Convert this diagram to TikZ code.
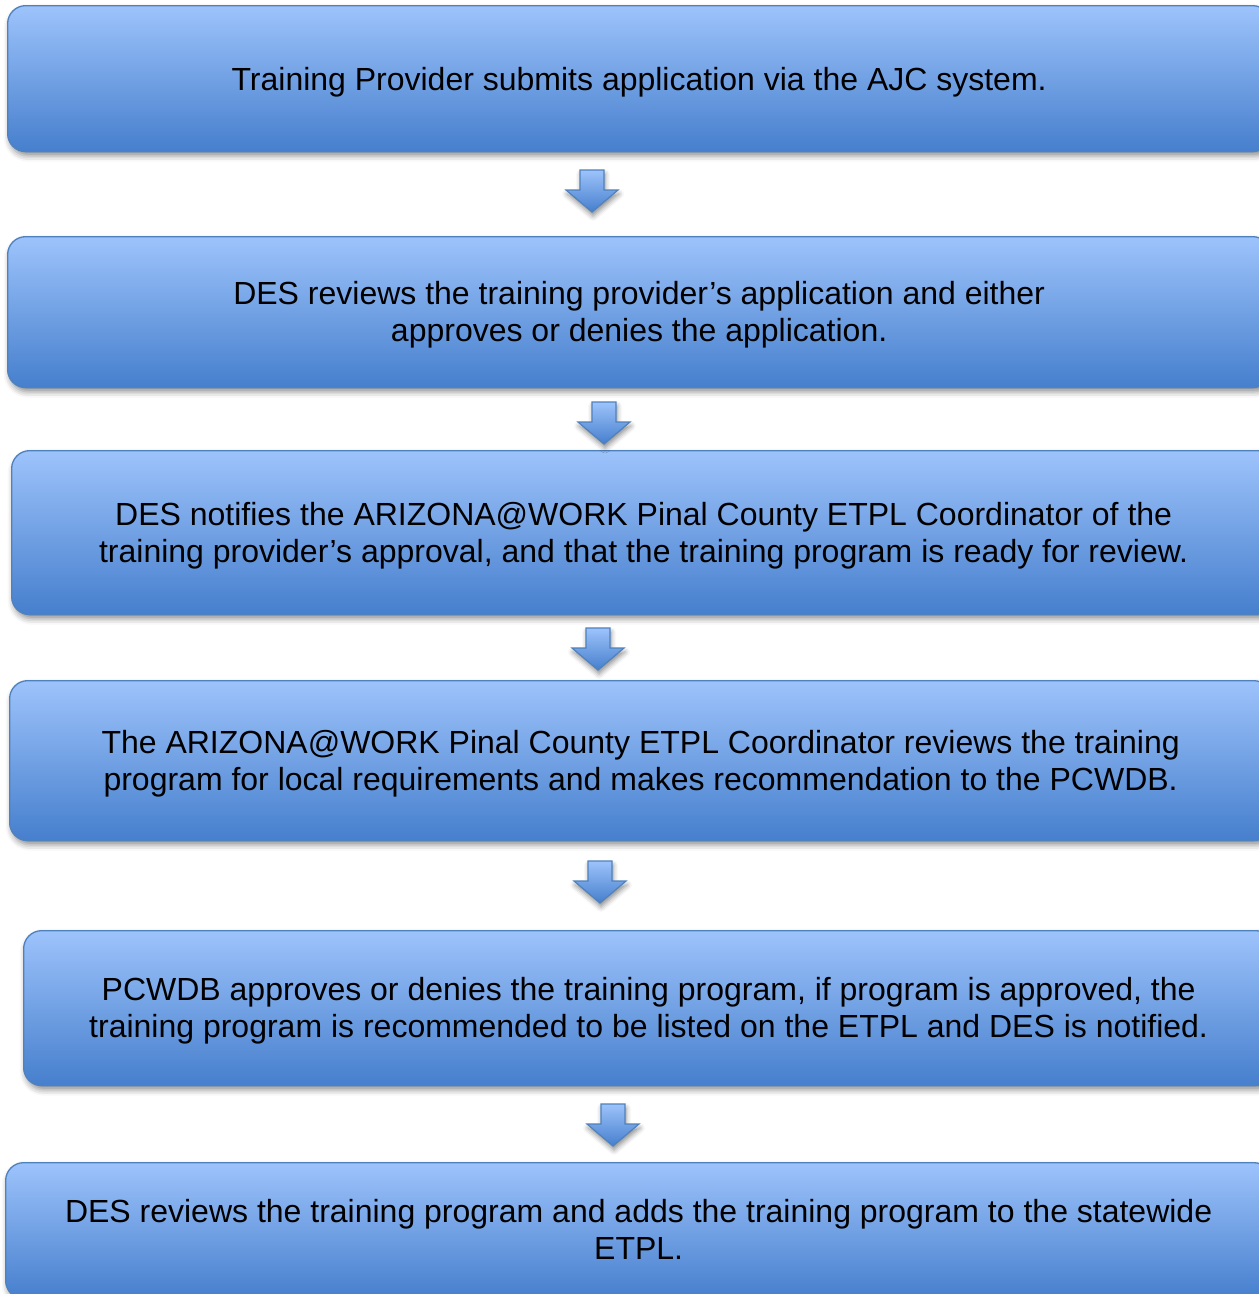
\documentclass[tikz,border=0pt]{standalone}
\usepackage{fontspec}
\setmainfont{Liberation Sans}
\usetikzlibrary{shadows.blur}
\definecolor{boxtop}{RGB}{157,195,251}
\definecolor{boxbot}{RGB}{70,127,205}
\definecolor{boxline}{RGB}{79,129,189}
\tikzset{
  stepbox/.style={draw=boxline, line width=1.3pt, rounded corners=18pt,
    top color=boxtop, bottom color=boxbot, inner sep=0pt, anchor=north west,
    blur shadow={shadow xshift=2pt, shadow yshift=-4pt, shadow blur radius=6pt, shadow opacity=45}},
  steptext/.style={align=center, inner sep=0pt, font=\fontsize{32}{37}\selectfont},
  downarrow/.style={draw=boxline, line width=1.2pt, top color=boxtop, bottom color=boxbot,
    blur shadow={shadow xshift=1pt, shadow yshift=-4pt, shadow blur radius=5pt, shadow opacity=45}},
  blockarrow/.pic={\path[downarrow] (-12,0) -- (12,0) -- (12,20) -- (26,20) -- (0,42) -- (-26,20) -- (-12,20) -- cycle;}
}
\begin{document}
\begin{tikzpicture}[x=1pt,y=-1pt]
\useasboundingbox (0,0) rectangle (1259,1294);
\clip (0,0) rectangle (1259,1294);
\node[stepbox, minimum width=1263pt, minimum height=146pt] (b1) at (7,5) {};
\node[stepbox, minimum width=1263pt, minimum height=151pt] (b2) at (7,236) {};
\node[stepbox, minimum width=1264pt, minimum height=164pt] (b3) at (11,450) {};
\node[stepbox, minimum width=1262pt, minimum height=160pt] (b4) at (9,680) {};
\node[stepbox, minimum width=1250pt, minimum height=155pt] (b5) at (23,930) {};
\node[stepbox, minimum width=1266pt, minimum height=136pt] (b6) at (5,1162) {};
\node[steptext] (t1) at ([yshift=-3.7pt]b1.center)
  {Training Provider submits application via the AJC system.};
\node[steptext] (t2) at ([yshift=-2.7pt]b2.center)
  {DES reviews the training provider’s application and either\\ approves or denies the application.};
\node[steptext] (t3) at ([yshift=-2.7pt]b3.center)
  {DES notifies the ARIZONA@WORK Pinal County ETPL Coordinator of the\\ training provider’s approval, and that the training program is ready for review.};
\node[steptext] (t4) at ([yshift=-2.7pt]b4.center)
  {The ARIZONA@WORK Pinal County ETPL Coordinator reviews the training\\ program for local requirements and makes recommendation to the PCWDB.};
\node[steptext] (t5) at ([yshift=-2.7pt]b5.center)
  {PCWDB approves or denies the training program, if program is approved, the\\ training program is recommended to be listed on the ETPL and DES is notified.};
\node[steptext] (t6) at ([yshift=1.2pt]b6.center)
  {DES reviews the training program and adds the training program to the statewide\\ ETPL.};
\pic at (592,170) {blockarrow};
\pic at (604,402) {blockarrow};
\pic at (598,628) {blockarrow};
\pic at (600,861) {blockarrow};
\pic at (613,1104) {blockarrow};
\end{tikzpicture}
\end{document}
